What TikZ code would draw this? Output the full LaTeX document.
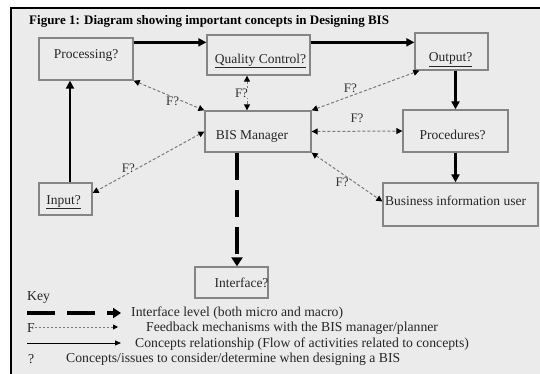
\documentclass[tikz,border=0pt]{standalone}
\usepackage{fontspec}
\setmainfont{Liberation Serif}
\usetikzlibrary{arrows.meta}
\definecolor{bg}{HTML}{EBEBEB}
\definecolor{edge}{HTML}{858585}
\definecolor{fbc}{HTML}{7A7A7A}
\newcommand\mv[3]{\hspace*{#1}\raisebox{#2}[\height][\depth]{#3}\hspace*{-#1}}
\begin{document}
\begin{tikzpicture}[x=1pt,y=-1pt,
  box/.style={draw=edge, line width=1.3pt, inner sep=0pt, text=black!85,
    font=\fontsize{13.5}{15}\selectfont},
  flow/.style={line width=2.6pt, -{Triangle[length=8pt,width=8pt]}},
  ifl/.style={line width=4.5pt, dash pattern=on 27pt off 10pt, -{Triangle[length=9pt,width=11pt]}},
  fb/.style={draw=fbc, line width=1pt, dash pattern=on 3pt off 2pt,
    {Triangle[length=6pt,width=6pt,color=black]}-{Triangle[length=6pt,width=6pt,color=black]}},
  flab/.style={font=\fontsize{13}{15}\selectfont, fill=bg, inner sep=0.5pt, text=black!80},
  keytext/.style={anchor=west, inner sep=0pt, font=\fontsize{13.7}{15}\selectfont, text=black!85}]
\useasboundingbox (0,0) rectangle (540,374);
\fill[white] (0,0) rectangle (540,374);
\fill[bg] (11,8) rectangle (540,374);
\draw[line width=2.5pt] (11,374) -- (11,8) -- (540,8);

\node[anchor=west, inner sep=0pt, font=\bfseries\fontsize{13}{15}\selectfont] (title) at (29,21)
  {Figure 1: Diagram showing important concepts in Designing BIS};

% boxes
\node[box, minimum width=94pt, minimum height=42pt] (proc) at (86,59) {\mv{0pt}{4pt}{Processing?}};
\node[box, minimum width=103pt, minimum height=40pt] (qc) at (258.5,55) {\mv{2pt}{-6pt}{\underline{Quality Control?}}};
\node[box, minimum width=73pt, minimum height=37pt] (out) at (451.5,51.5) {\mv{-1pt}{-8pt}{\underline{Output?}}};
\node[box, minimum width=106pt, minimum height=41pt] (bis) at (258,131.5) {\mv{-6pt}{-5pt}{BIS Manager}};
\node[box, minimum width=105pt, minimum height=42pt] (procs) at (455.5,131) {\mv{-3pt}{-4pt}{Procedures?}};
\node[box, minimum width=155pt, minimum height=43pt] (biu) at (460.5,204.5) {\mv{-5pt}{4pt}{Business information user}};
\node[box, minimum width=53pt, minimum height=32pt] (inp) at (65.5,199) {\mv{-2pt}{-3pt}{\underline{Input?}}};
\node[box, minimum width=73pt, minimum height=31pt] (iface) at (231.5,282.5) {\mv{10pt}{0pt}{Interface?}};

% main flow
\coordinate (p1) at ([yshift=-5pt]proc.north east);
\draw[flow] (p1) -- (p1 -| qc.west);
\coordinate (q1) at ([yshift=-10pt]out.north west);
\draw[flow] (qc.east |- q1) -- (q1);
\draw[flow] (procs.north |- out.south) -- (procs.north);
\draw[flow] (procs.south) -- (procs.south |- biu.north);
\coordinate (i1) at ([xshift=4.5pt]inp.north);
\draw[flow] (i1) -- (i1 |- proc.south);
\coordinate (f1) at ([xshift=5.5pt]iface.north);
\draw[ifl] (f1 |- bis.south) -- (f1);

% feedback
\draw[fb] (proc.south east) -- node[flab, pos=.55, yshift=-4pt] {F?} (bis.north west);
\coordinate (qb) at ([xshift=-11.5pt]qc.south);
\draw[fb] (qb) -- node[flab, left=-2pt] {F?} (qb |- bis.north);
\draw[fb] (bis.north east) -- node[flab, pos=.36, yshift=8pt] {F?} ([xshift=5pt]out.south west);
\draw[fb] (bis.east) -- node[flab, pos=.5, yshift=13pt] {F?} (procs.west);
\draw[fb] (bis.south east) -- node[flab, pos=.43, yshift=-9pt] {F?} ([yshift=3pt]biu.west);
\draw[fb] (bis.west) -- node[flab, pos=.68, yshift=5pt] {F?} ([yshift=6pt]inp.east);

% key
\node[keytext] (key) at (27,297) {Key};
\coordinate (k1a) at (27,313); \coordinate (k1b) at (121,313);
\draw[line width=4pt, dash pattern=on 28pt off 12pt, -{Triangle[length=8pt,width=10pt]}] (k1a) -- (k1b);
\node[keytext] (kt1) at (131,313) {Interface level (both micro and macro)};
\node[keytext] (kf) at (27,328) {F};
\coordinate (k2a) at (35,327); \coordinate (k2b) at (118,327);
\draw[draw=fbc, line width=1pt, dash pattern=on 2pt off 2pt, -{Triangle[length=5pt,width=5pt,color=black]}] (k2a) -- (k2b);
\node[keytext] (kt2) at (146,328) {Feedback mechanisms with the BIS manager/planner};
\coordinate (k3a) at (27,343); \coordinate (k3b) at (121,343);
\draw[line width=0.9pt, -{Triangle[length=6pt,width=5pt]}] (k3a) -- (k3b);
\node[keytext] (kt3) at (135,344) {Concepts relationship (Flow of activities related to concepts)};
\node[keytext] (kq) at (28,359) {?};
\node[keytext] (kt4) at (66,359) {Concepts/issues to consider/determine when designing a BIS};
\end{tikzpicture}
\end{document}
